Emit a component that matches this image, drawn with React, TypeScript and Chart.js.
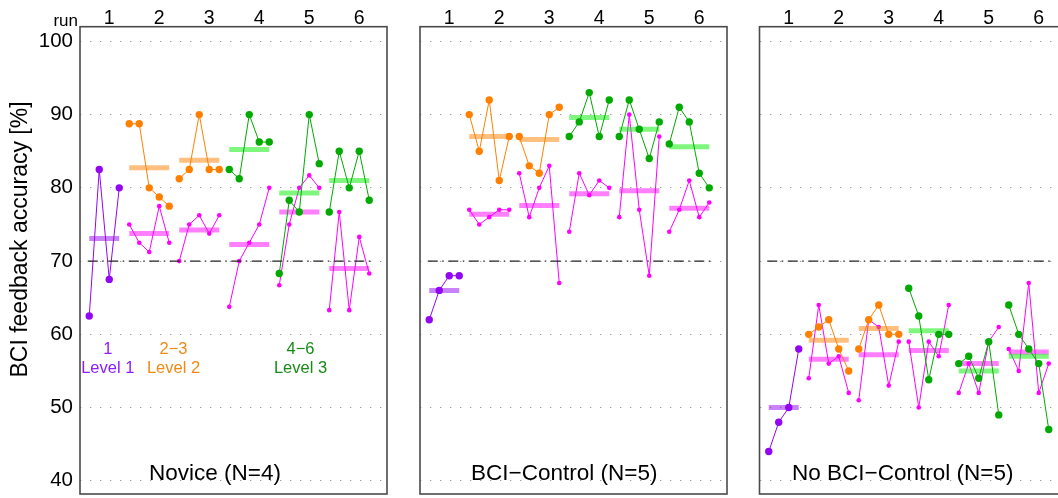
import React, { useEffect, useRef } from 'react';
import { Chart, registerables } from 'chart.js';

Chart.register(...registerables);

// ---- data ----------------------------------------------------------------
const runs = [1, 2, 3, 4, 5, 6];
const runTickLabels = ['1', '2', '3', '4', '5', '6'];
const accuracyTicks = [40, 50, 60, 70, 80, 90, 100];
const chanceLevel = 70;

// training level used in each run (1 -> Level 1, 2-3 -> Level 2, 4-6 -> Level 3)
const runLevel = [1, 2, 2, 3, 3, 3];

// Novice (N=4)
const noviceLevelRuns = [
  [62.5, 82.5, 67.5, 80],
  [88.75, 88.75, 80, 78.75, 77.5],
  [81.25, 82.5, 90, 82.5, 82.5],
  [82.5, 81.25, 90, 86.25, 86.25],
  [68.3, 78.3, 76.7, 90, 83.3],
  [76.7, 85, 80, 85, 78.3],
];
const noviceLevelMeans = [73.1, 82.75, 83.75, 85.25, 79.3, 81.0];
const noviceAltRuns = [
  [],
  [75, 72.5, 71.25, 77.5, 72.5],
  [70, 75, 76.25, 73.75, 76.25],
  [63.75, 70, 72.5, 75, 80],
  [66.7, 75, 80, 81.7, 80],
  [63.3, 76.7, 63.3, 73.3, 68.3],
];
const noviceAltMeans = [null, 73.75, 74.25, 72.25, 76.7, 69.0];

// BCI-Control (N=5)
const controlLevelRuns = [
  [62, 66, 68, 68],
  [90, 85, 92, 81, 87],
  [87, 83, 82, 90, 91],
  [87, 89, 93, 87, 92],
  [87, 92, 88, 84, 89],
  [86, 91, 89, 82, 80],
];
const controlLevelMeans = [66.0, 87.0, 86.6, 89.6, 88.0, 85.6];
const controlAltRuns = [
  [],
  [77, 75, 76, 77, 77],
  [82, 76, 80, 83, 67],
  [74, 82, 79, 81, 80],
  [76, 90, 77, 68, 87],
  [74, 77, 81, 76, 78],
];
const controlAltMeans = [null, 76.4, 77.6, 79.2, 79.6, 77.2];

// No BCI-Control (N=5)
const noControlLevelRuns = [
  [44, 48, 50, 58],
  [60, 61, 62, 58, 55],
  [58, 62, 64, 60, 60],
  [66.3, 62.5, 53.8, 60, 60],
  [56, 57, 54, 59, 49],
  [64, 60, 58, 56, 47],
];
const noControlLevelMeans = [50.0, 59.2, 60.8, 60.5, 55.0, 57.0];
const noControlAltRuns = [
  [],
  [54, 64, 56, 57, 52],
  [51, 62, 61, 53, 59],
  [59, 50, 59, 57, 64],
  [52, 56, 52, 59, 61],
  [58, 55, 67, 52, 56],
];
const noControlAltMeans = [null, 56.6, 57.2, 57.8, 56.0, 57.6];

const levelRanges = ['1', '2\u22123', '4\u22126'];
const levelNames = ['Level 1', 'Level 2', 'Level 3'];

// ---- layout & style ------------------------------------------------------
const FONT = '"Liberation Sans", Arial, Helvetica, sans-serif';
const CANVAS_W = 1080;
const CANVAS_H = 498;
const AXIS_W = 80;
const PANEL_W = 307;
const TOP_H = 26.7;
const BOTTOM_PAD = 3;
const X_MIN = 0.415;
const X_MAX = 6.555;
const Y_MIN = 38.2;
const Y_MAX = 102.0;
const SLOT = 0.2; // spacing between neighbouring points inside a run

const LEVEL_STYLE = [
  { point: '#9306f4', bar: 'rgba(147,6,244,0.5)', text: '#8a1cff' },
  { point: '#ff8000', bar: 'rgba(255,128,0,0.5)', text: '#f08a14' },
  { point: '#00aa00', bar: 'rgba(0,240,0,0.5)', text: '#178a17' },
];
const ALT_STYLE = { point: '#ff00ff', bar: 'rgba(255,0,255,0.5)' };

// legend label centres (in run units) for the three training levels
const legendX = [0.97, 2.285, 4.825];

const panels = [
  {
    title: 'Novice (N=4)', titleX: 3.115, left: 80, showAxis: true, showLegend: true,
    levelRuns: noviceLevelRuns, levelMeans: noviceLevelMeans,
    altRuns: noviceAltRuns, altMeans: noviceAltMeans,
  },
  {
    title: 'BCI\u2212Control (N=5)', titleX: 3.3, left: 420, showAxis: false, showLegend: false,
    levelRuns: controlLevelRuns, levelMeans: controlLevelMeans,
    altRuns: controlAltRuns, altMeans: controlAltMeans,
  },
  {
    title: 'No BCI\u2212Control (N=5)', titleX: 3.28, left: 759.5, showAxis: false, showLegend: false,
    levelRuns: noControlLevelRuns, levelMeans: noControlLevelMeans,
    altRuns: noControlAltRuns, altMeans: noControlAltMeans,
  },
];

// x position of the j-th of n values in a run (runs are right-aligned to 5 slots)
function slotX(run: number, n: number, j: number) {
  return run - 0.6 + SLOT * (5 - n + j);
}

function seriesDatasets(values: number[], run: number, mean: number | null, style: any, radius: number) {
  if (!values.length) return [];
  const pts = values.map((v, j) => ({ x: slotX(run, values.length, j), y: v }));
  const out: any[] = [
    {
      data: pts,
      borderColor: style.point,
      borderWidth: 1,
      pointRadius: radius,
      pointBackgroundColor: style.point,
      pointBorderColor: style.point,
      pointBorderWidth: 0,
      tension: 0,
    },
  ];
  if (mean !== null) {
    out.push({
      data: [
        { x: pts[0].x, y: mean },
        { x: pts[pts.length - 1].x, y: mean },
      ],
      borderColor: style.bar,
      borderWidth: 5,
      borderCapStyle: 'butt',
      pointRadius: 0,
    });
  }
  return out;
}

function buildDatasets(p: any) {
  const ds: any[] = [
    {
      data: [
        { x: 0.57, y: chanceLevel },
        { x: 6.25, y: chanceLevel },
      ],
      borderColor: '#222',
      borderWidth: 1.1,
      borderDash: [10, 4.5, 1.5, 4.5],
      pointRadius: 0,
    },
  ];
  runs.forEach((run, ri) => {
    const style = LEVEL_STYLE[runLevel[ri] - 1];
    ds.push(...seriesDatasets(p.levelRuns[ri], run, p.levelMeans[ri], style, 3.7));
  });
  runs.forEach((run, ri) => {
    ds.push(...seriesDatasets(p.altRuns[ri], run, p.altMeans[ri], ALT_STYLE, 2.3));
  });
  return ds;
}

const panelDecor = {
  id: 'panelDecor',
  afterDraw(chart: any, _args: any, opts: any) {
    const { ctx, chartArea } = chart;
    const xs = chart.scales.x;
    const ys = chart.scales.y;
    ctx.save();

    // panel frame
    ctx.strokeStyle = '#4a4a4a';
    ctx.lineWidth = 1.6;
    ctx.strokeRect(chartArea.left, chartArea.top, chartArea.right - chartArea.left, chartArea.bottom - chartArea.top);

    // panel title
    ctx.fillStyle = '#000';
    ctx.font = `22.5px ${FONT}`;
    ctx.textAlign = 'center';
    ctx.textBaseline = 'alphabetic';
    ctx.fillText(opts.title, xs.getPixelForValue(opts.titleX), chartArea.bottom - 14);

    if (opts.showLegend) {
      ctx.font = `16.5px ${FONT}`;
      ctx.textBaseline = 'middle';
      levelRanges.forEach((r, i) => {
        ctx.fillStyle = LEVEL_STYLE[i].text;
        const x = xs.getPixelForValue(legendX[i]);
        ctx.fillText(r, x, ys.getPixelForValue(58.0));
        ctx.fillText(levelNames[i], x, ys.getPixelForValue(55.3));
      });
    }

    if (opts.showAxis) {
      ctx.fillStyle = '#000';
      ctx.font = `17px ${FONT}`;
      ctx.textAlign = 'right';
      ctx.textBaseline = 'alphabetic';
      ctx.fillText('run', chartArea.left - 2, chartArea.top - 1);

      ctx.translate(21, 239.5);
      ctx.rotate(-Math.PI / 2);
      ctx.font = `23px ${FONT}`;
      ctx.textAlign = 'center';
      ctx.textBaseline = 'middle';
      ctx.fillText('BCI feedback accuracy [%]', 0, 0);
    }
    ctx.restore();
  },
};

function makeConfig(p: any): any {
  const yAxisW = p.showAxis ? AXIS_W : 0;
  return {
    type: 'line',
    data: { datasets: buildDatasets(p) },
    options: {
      animation: false,
      responsive: false,
      devicePixelRatio: 1,
      events: [],
      layout: {
        padding: {
          left: p.left - yAxisW,
          right: CANVAS_W - (p.left + PANEL_W),
          top: 0,
          bottom: BOTTOM_PAD,
        },
      },
      plugins: {
        legend: { display: false },
        tooltip: { enabled: false },
        panelDecor: { title: p.title, titleX: p.titleX, showLegend: p.showLegend, showAxis: p.showAxis },
      },
      scales: {
        x: {
          type: 'linear',
          position: 'top',
          min: X_MIN,
          max: X_MAX,
          afterBuildTicks: (s: any) => {
            s.ticks = runs.map((v) => ({ value: v }));
          },
          afterFit: (s: any) => {
            s.height = TOP_H;
            s.paddingLeft = 0;
            s.paddingRight = 0;
          },
          grid: { display: false, drawTicks: false },
          border: { display: false },
          ticks: {
            color: '#000',
            font: { family: FONT, size: 19.5, lineHeight: 1 },
            padding: -1.5,
            maxRotation: 0,
            autoSkip: false,
            callback: (_v: any, i: number) => runTickLabels[i],
          },
        },
        y: {
          type: 'linear',
          min: Y_MIN,
          max: Y_MAX,
          afterBuildTicks: (s: any) => {
            s.ticks = accuracyTicks.map((v) => ({ value: v }));
          },
          afterFit: (s: any) => {
            s.width = yAxisW;
            s.paddingTop = 0;
            s.paddingBottom = 0;
          },
          grid: { color: '#9a9a9a', lineWidth: 1, drawTicks: false },
          border: { display: false, dash: [1.3, 8.7] },
          ticks: {
            display: p.showAxis,
            color: '#000',
            font: { family: FONT, size: 20.5 },
            padding: 7,
            autoSkip: false,
          },
        },
      },
    },
    plugins: [panelDecor],
  };
}

export default function App() {
  const canvasRefs = useRef<(HTMLCanvasElement | null)[]>([]);

  useEffect(() => {
    const charts = panels.map((p, i) => new Chart(canvasRefs.current[i] as HTMLCanvasElement, makeConfig(p)));
    return () => charts.forEach((c) => c.destroy());
  }, []);

  return (
    <div
      style={{
        position: 'fixed',
        left: 0,
        top: 0,
        width: 1058,
        height: 498,
        overflow: 'hidden',
        background: '#fff',
      }}
    >
      {panels.map((p, i) => (
        <canvas
          key={p.title}
          ref={(el) => {
            canvasRefs.current[i] = el;
          }}
          width={CANVAS_W}
          height={CANVAS_H}
          style={{ position: 'absolute', left: 0, top: 0, width: CANVAS_W, height: CANVAS_H }}
        />
      ))}
    </div>
  );
}
